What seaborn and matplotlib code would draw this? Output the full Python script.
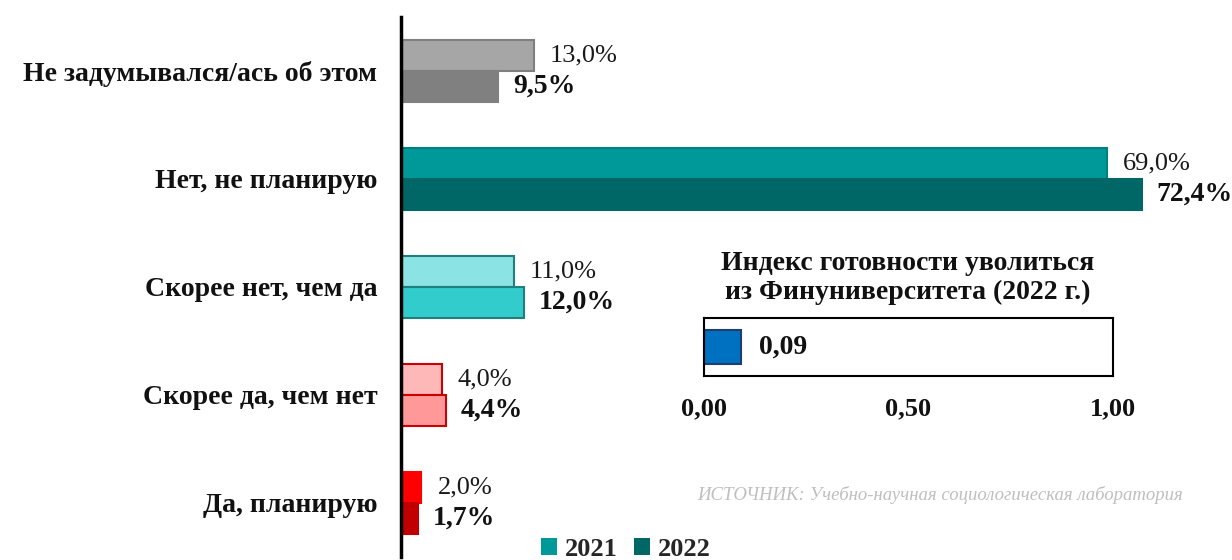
import matplotlib
matplotlib.use("Agg")
import matplotlib.pyplot as plt
import seaborn as sns
import pandas as pd
from matplotlib.patches import Patch

categories = ["Не задумывался/ась об этом", "Нет, не планирую", "Скорее нет, чем да",
              "Скорее да, чем нет", "Да, планирую"]
values_2021 = [13.0, 69.0, 11.0, 4.0, 2.0]
values_2022 = [9.5, 72.4, 12.0, 4.4, 1.7]
years = ["2021", "2022"]
index_label = "Индекс готовности уволиться\nиз Финуниверситета (2022 г.)"
index_value = [0.09]
index_ticks = [0.0, 0.5, 1.0]
source_text = "ИСТОЧНИК: Учебно-научная социологическая лаборатория"

fill_2021 = ["#A6A6A6", "#009999", "#8CE3E3", "#FFB8B8", "#FF0000"]
edge_2021 = ["#7F7F7F", "#007F7F", "#1F7F7F", "#CC0000", "#FF0000"]
fill_2022 = ["#808080", "#006666", "#33CCCC", "#FF9999", "#C00000"]
edge_2022 = ["#808080", "#006666", "#1F7F7F", "#CC0000", "#C00000"]

sns.set_theme(style="white")
plt.rcParams["font.family"] = ["Liberation Serif", "DejaVu Serif"]

df = pd.DataFrame({
    "cat": categories * 2,
    "value": values_2021 + values_2022,
    "year": [years[0]] * 5 + [years[1]] * 5,
})

fig = plt.figure(figsize=(12.32, 5.6), dpi=100)
ax = fig.add_axes([401 / 1232, 3 / 560, 819 / 1232, 540 / 560])
sns.barplot(data=df, y="cat", x="value", hue="year", orient="h", ax=ax,
            width=0.58, legend=False, order=categories, hue_order=years)

for i, p in enumerate(ax.containers[0].patches):
    p.set_facecolor(fill_2021[i]); p.set_edgecolor(edge_2021[i]); p.set_linewidth(1.5)
for i, p in enumerate(ax.containers[1].patches):
    p.set_facecolor(fill_2022[i]); p.set_edgecolor(edge_2022[i]); p.set_linewidth(1.5)

for i, p in enumerate(ax.containers[0].patches):
    y = p.get_y() + p.get_height() / 2
    ax.annotate(f"{values_2021[i]:.1f}".replace(".", ",") + "%", (p.get_width(), y),
                xytext=(11.5, 0), textcoords="offset points", va="center", ha="left",
                fontsize=19, color="#1a1a1a")
for i, p in enumerate(ax.containers[1].patches):
    y = p.get_y() + p.get_height() / 2
    ax.annotate(f"{values_2022[i]:.1f}".replace(".", ",") + "%", (p.get_width(), y),
                xytext=(10.5, 0), textcoords="offset points", va="center", ha="left",
                fontsize=20, fontweight="bold", color="#111111")

ax.set_xlim(0, 80)
ax.set_ylim(4.5, -0.5)
ax.set_xlabel(""); ax.set_ylabel("")
ax.set_xticks([])
for s in ["top", "right", "bottom"]:
    ax.spines[s].set_visible(False)
ax.spines["left"].set_linewidth(2.5)
ax.spines["left"].set_color("black")
ax.tick_params(axis="y", which="major", length=0, pad=17, labelsize=20)
for lbl in ax.get_yticklabels():
    lbl.set_fontweight("bold")
    lbl.set_color("#111111")
ax.set_yticks([i - 0.5 for i in range(6)], minor=True)
ax.tick_params(axis="y", which="minor", length=7, width=2.5, direction="out", color="black")

# Legend
handles = [Patch(facecolor="#009999", edgecolor="none"), Patch(facecolor="#006666", edgecolor="none")]
leg = fig.legend(handles, years, loc="center", bbox_to_anchor=(626 / 1232, 1 - 549 / 560),
                 ncol=2, frameon=False, handlelength=0.6, handleheight=0.6,
                 handletextpad=0.3, columnspacing=0.6, borderpad=0,
                 prop={"size": 19, "weight": "bold"})

# Inset index chart
ax2 = fig.add_axes([704 / 1232, 1 - 376 / 560, 409 / 1232, 58 / 560])
sns.barplot(x=index_value, y=["idx"], orient="h", ax=ax2, width=0.58,
            color="#0070C0", edgecolor="#1F3F6F", linewidth=1.5, saturation=1)
ax2.set_xlim(0, 1)
ax2.set_ylim(0.5, -0.5)
ax2.set_yticks([])
ax2.set_ylabel(""); ax2.set_xlabel("")
ax2.set_xticks(index_ticks)
ax2.set_xticklabels([f"{t:.2f}".replace(".", ",") for t in index_ticks], fontweight="bold",
                    color="#111111")
ax2.tick_params(axis="x", length=0, pad=15, labelsize=19)
for s in ax2.spines.values():
    s.set_visible(True); s.set_color("black"); s.set_linewidth(1.5)
ax2.annotate(f"{index_value[0]:.2f}".replace(".", ","), (index_value[0], 0),
             xytext=(13, 0), textcoords="offset points", va="center", ha="left",
             fontsize=20, fontweight="bold", color="#111111")

fig.text(908 / 1232, 1 - 278 / 560, index_label, ha="center", va="center",
         fontsize=20, fontweight="bold", linespacing=1.25, color="#111111")
fig.text(1183 / 1232, 1 - 495 / 560, source_text, ha="right", va="center",
         fontsize=13.5, style="italic", color="#BFBFBF")

fig.savefig("out.png", dpi=100)
